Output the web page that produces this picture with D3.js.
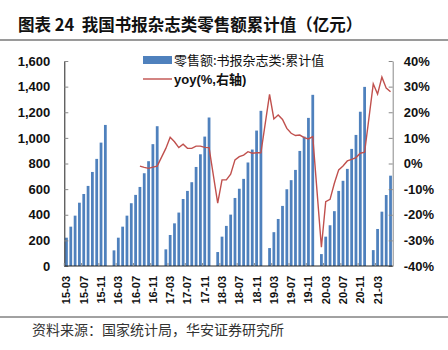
<!DOCTYPE html>
<html>
<head>
<meta charset="utf-8">
<script src="https://cdn.jsdelivr.net/npm/d3@7/dist/d3.min.js"></script>
<style>
  body { margin: 0; background: #fff; }
  svg { display: block; }
</style>
</head>
<body>
<script>
// months 15-03 .. 21-06 (Jan has no release)
var months = ("15-03 15-04 15-05 15-06 15-07 15-08 15-09 15-10 15-11 15-12 " +
  "16-01 16-02 16-03 16-04 16-05 16-06 16-07 16-08 16-09 16-10 16-11 16-12 " +
  "17-01 17-02 17-03 17-04 17-05 17-06 17-07 17-08 17-09 17-10 17-11 17-12 " +
  "18-01 18-02 18-03 18-04 18-05 18-06 18-07 18-08 18-09 18-10 18-11 18-12 " +
  "19-01 19-02 19-03 19-04 19-05 19-06 19-07 19-08 19-09 19-10 19-11 19-12 " +
  "20-01 20-02 20-03 20-04 20-05 20-06 20-07 20-08 20-09 20-10 20-11 20-12 " +
  "21-01 21-02 21-03 21-04 21-05 21-06").split(" ");

// 零售额:书报杂志类:累计值 (亿元)
var retail = [221, 307, 393, 494, 562, 625, 734, 836, 963, 1101,
  null, 122, 221, 307, 393, 490, 555, 617, 724, 818, 951, 1091,
  null, 130, 242, 333, 417, 523, 586, 654, 773, 872, 1010, 1159,
  null, 109, 229, 313, 401, 531, 603, 680, 808, 909, 1057, 1211,
  null, 140, 264, 367, 469, 599, 670, 750, 898, 1010, 1156, 1336,
  null, 93, 229, 318, 428, 586, 665, 758, 914, 1023, 1204, 1398,
  null, 124, 289, 424, 554, 705];

// yoy (%)
var yoy = [null, null, null, null, null, null, null, null, null, null,
  null, null, null, null, null, null, null, -1.0, -1.5, -1.9, -1.4, -1.0,
  null, 5.9, 10.2, 8.5, 6.2, 7.5, 5.9, 5.9, 6.8, 6.8, 6.3, 6.2,
  null, -15.5, -6.4, -6.4, -4.2, 1.4, 2.7, 3.3, 4.6, 4.0, 4.2, 4.2,
  null, 27.0, 17.4, 18.9, 17.2, 13.7, 11.8, 10.9, 11.1, 10.1, 9.6, 10.5,
  null, -32.7, -14.9, -14.0, -7.7, -2.5, -1.0, 1.0, 1.6, 2.3, 4.0, 4.4,
  null, 31.1, 27.1, 33.7, 29.4, 28.0];

var leftTicks = [0, 200, 400, 600, 800, 1000, 1200, 1400, 1600];
var rightTicks = [-40, -30, -20, -10, 0, 10, 20, 30, 40];

var W = 448, H = 350;
var svg = d3.select("body").append("svg")
  .attr("width", W).attr("height", H);

// plot box
var pLeft = 64.3, pRight = 392.7, pTop = 61, pBottom = 266;

// title
svg.append("text")
  .attr("x", 18).attr("y", 31)
  .attr("font-family", "'Noto Sans CJK SC', sans-serif")
  .attr("font-weight", "bold")
  .attr("font-size", 16.5)
  .attr("fill", "#111")
  .attr("xml:space", "preserve")
  .text("图表 24  我国书报杂志类零售额累计值（亿元）");

svg.append("line")
  .attr("x1", 0).attr("x2", W).attr("y1", 40).attr("y2", 40)
  .attr("stroke", "#9a9a9a").attr("stroke-width", 2);

var x = d3.scaleBand().domain(months).range([pLeft, pRight]).paddingInner(0.36).paddingOuter(0.18);
var yL = d3.scaleLinear().domain([0, 1600]).range([pBottom, pTop]);
var yR = d3.scaleLinear().domain([-40, 40]).range([pBottom, pTop]);

// bars
svg.append("g").selectAll("rect")
  .data(months.map(function(m, i) { return {m: m, v: retail[i]}; }).filter(function(d) { return d.v != null; }))
  .enter().append("rect")
    .attr("x", function(d) { return x(d.m); })
    .attr("width", x.bandwidth())
    .attr("y", function(d) { return yL(d.v); })
    .attr("height", function(d) { return yL(0) - yL(d.v); })
    .attr("fill", "#4f81bd");

// yoy line, gaps in Jan are bridged
var yoyPts = months.map(function(m, i) { return {m: m, v: yoy[i]}; }).filter(function(d) { return d.v != null; });
var line = d3.line()
  .x(function(d) { return x(d.m) + x.bandwidth() / 2; })
  .y(function(d) { return yR(d.v); });
svg.append("path")
  .attr("d", line(yoyPts))
  .attr("fill", "none")
  .attr("stroke", "#c0504d")
  .attr("stroke-width", 1.4);

// left axis
var axL = svg.append("g")
  .attr("transform", "translate(" + pLeft + ",0)")
  .call(d3.axisLeft(yL).tickValues(leftTicks).tickSizeInner(-4).tickSizeOuter(0).tickPadding(14)
    .tickFormat(d3.format(",")));
axL.select(".domain").attr("stroke", "#222");
axL.selectAll(".tick line").attr("stroke", "#888");
axL.selectAll("text")
  .attr("font-family", "'Liberation Sans', Arial, sans-serif")
  .attr("font-weight", "bold").attr("font-size", 13).attr("fill", "#111");

// right axis
var axR = svg.append("g")
  .attr("transform", "translate(" + pRight + ",0)")
  .call(d3.axisRight(yR).tickValues(rightTicks).tickSizeInner(-4).tickSizeOuter(0).tickPadding(11)
    .tickFormat(function(d) { return d + "%"; }));
axR.select(".domain").attr("stroke", "#888");
axR.selectAll(".tick line").attr("stroke", "#888");
axR.selectAll("text")
  .attr("font-family", "'Liberation Sans', Arial, sans-serif")
  .attr("font-weight", "bold").attr("font-size", 13).attr("fill", "#111");

// bottom axis
var xLabels = months.filter(function(m, i) { return i % 4 === 0; });
svg.append("line")
  .attr("x1", pLeft).attr("x2", pRight).attr("y1", pBottom).attr("y2", pBottom)
  .attr("stroke", "#222");
svg.append("g").selectAll("line")
  .data(xLabels)
  .enter().append("line")
    .attr("x1", function(d) { return x(d) - x.step() * x.paddingInner() / 2; })
    .attr("x2", function(d) { return x(d) - x.step() * x.paddingInner() / 2; })
    .attr("y1", pBottom).attr("y2", pBottom - 3)
    .attr("stroke", "#888");
svg.append("g").selectAll("text")
  .data(xLabels)
  .enter().append("text")
    .attr("transform", function(d) {
      return "translate(" + (x(d) + x.bandwidth() / 2 + 4) + "," + (pBottom + 10) + ") rotate(-90)";
    })
    .attr("text-anchor", "end")
    .attr("font-family", "'Liberation Sans', Arial, sans-serif")
    .attr("font-weight", "bold").attr("font-size", 11).attr("fill", "#111")
    .text(function(d) { return d; });

// legend
var lg = svg.append("g");
lg.append("rect").attr("x", 143).attr("y", 56).attr("width", 29).attr("height", 8).attr("fill", "#4f81bd");
lg.append("text").attr("x", 174).attr("y", 65)
  .attr("font-family", "'Noto Sans CJK SC', sans-serif").attr("font-size", 13).attr("fill", "#111")
  .text("零售额:书报杂志类:累计值");
lg.append("line").attr("x1", 143).attr("x2", 172).attr("y1", 79).attr("y2", 79)
  .attr("stroke", "#c0504d").attr("stroke-width", 1.4);
lg.append("text").attr("x", 174).attr("y", 84)
  .attr("font-family", "'Liberation Sans', 'Noto Sans CJK SC', sans-serif").attr("font-weight", "bold")
  .attr("font-size", 13).attr("fill", "#111")
  .text("yoy(%,右轴)");

// footer
svg.append("line")
  .attr("x1", 0).attr("x2", W).attr("y1", 317).attr("y2", 317)
  .attr("stroke", "#444").attr("stroke-width", 1);
svg.append("text")
  .attr("x", 32).attr("y", 335)
  .attr("font-family", "'Noto Sans CJK SC', sans-serif")
  .attr("font-size", 14).attr("fill", "#333")
  .text("资料来源：国家统计局，华安证券研究所");
</script>
</body>
</html>
